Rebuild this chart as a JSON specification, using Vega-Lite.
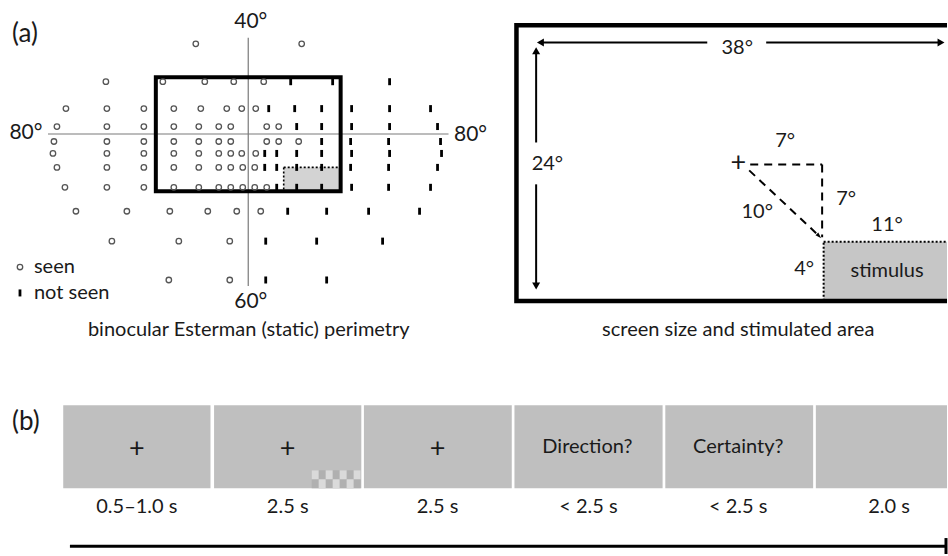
{
  "$schema": "https://vega.github.io/schema/vega-lite/v6.json",
  "width": 948,
  "height": 556,
  "autosize": {"type": "fit", "contains": "padding"},
  "padding": 0,
  "background": "white",
  "config": {
    "view": {"stroke": null},
    "text": {"font": "Lato", "fill": "#1a1a1a", "baseline": "middle"}
  },
  "datasets": {
    "testpoints": [
      {"x": 196, "y": 44, "response": "seen"}, {"x": 302, "y": 44, "response": "seen"},
      {"x": 106, "y": 82, "response": "seen"}, {"x": 163, "y": 82, "response": "seen"}, {"x": 205, "y": 82, "response": "seen"}, {"x": 234, "y": 82, "response": "seen"}, {"x": 264, "y": 82, "response": "seen"},
      {"x": 291, "y": 82, "response": "not seen"}, {"x": 333, "y": 82, "response": "not seen"}, {"x": 390, "y": 82, "response": "not seen"},
      {"x": 66, "y": 109, "response": "seen"}, {"x": 107, "y": 109, "response": "seen"}, {"x": 144, "y": 109, "response": "seen"}, {"x": 174, "y": 109, "response": "seen"}, {"x": 201, "y": 109, "response": "seen"}, {"x": 227, "y": 109, "response": "seen"}, {"x": 242, "y": 109, "response": "seen"}, {"x": 256, "y": 109, "response": "seen"},
      {"x": 269, "y": 109, "response": "not seen"}, {"x": 295, "y": 109, "response": "not seen"}, {"x": 322, "y": 109, "response": "not seen"}, {"x": 352, "y": 109, "response": "not seen"}, {"x": 390, "y": 109, "response": "not seen"}, {"x": 431, "y": 109, "response": "not seen"},
      {"x": 57, "y": 127, "response": "seen"}, {"x": 107, "y": 127, "response": "seen"}, {"x": 144, "y": 127, "response": "seen"}, {"x": 174, "y": 127, "response": "seen"}, {"x": 199, "y": 127, "response": "seen"}, {"x": 219, "y": 127, "response": "seen"}, {"x": 231, "y": 127, "response": "seen"}, {"x": 267, "y": 127, "response": "seen"}, {"x": 279, "y": 127, "response": "seen"},
      {"x": 297, "y": 127, "response": "not seen"}, {"x": 322, "y": 127, "response": "not seen"}, {"x": 352, "y": 127, "response": "not seen"}, {"x": 390, "y": 127, "response": "not seen"}, {"x": 438, "y": 127, "response": "not seen"},
      {"x": 54, "y": 142, "response": "seen"}, {"x": 107, "y": 142, "response": "seen"}, {"x": 144, "y": 142, "response": "seen"}, {"x": 174, "y": 142, "response": "seen"}, {"x": 199, "y": 142, "response": "seen"}, {"x": 219, "y": 142, "response": "seen"}, {"x": 231, "y": 142, "response": "seen"}, {"x": 267, "y": 142, "response": "seen"}, {"x": 279, "y": 142, "response": "seen"}, {"x": 299, "y": 142, "response": "seen"},
      {"x": 322, "y": 142, "response": "not seen"}, {"x": 351, "y": 142, "response": "not seen"}, {"x": 389, "y": 142, "response": "not seen"}, {"x": 441, "y": 142, "response": "not seen"},
      {"x": 53, "y": 154, "response": "seen"}, {"x": 107, "y": 154, "response": "seen"}, {"x": 144, "y": 154, "response": "seen"}, {"x": 174, "y": 154, "response": "seen"}, {"x": 199, "y": 154, "response": "seen"}, {"x": 219, "y": 154, "response": "seen"}, {"x": 231, "y": 154, "response": "seen"}, {"x": 242, "y": 154, "response": "seen"}, {"x": 256, "y": 154, "response": "seen"},
      {"x": 265, "y": 154, "response": "not seen"}, {"x": 277, "y": 154, "response": "not seen"}, {"x": 297, "y": 154, "response": "not seen"}, {"x": 322, "y": 154, "response": "not seen"}, {"x": 352, "y": 154, "response": "not seen"}, {"x": 390, "y": 154, "response": "not seen"}, {"x": 442, "y": 154, "response": "not seen"},
      {"x": 57, "y": 168, "response": "seen"}, {"x": 107, "y": 168, "response": "seen"}, {"x": 144, "y": 168, "response": "seen"}, {"x": 174, "y": 168, "response": "seen"}, {"x": 199, "y": 168, "response": "seen"}, {"x": 219, "y": 168, "response": "seen"}, {"x": 231, "y": 168, "response": "seen"}, {"x": 243, "y": 168, "response": "seen"}, {"x": 255, "y": 168, "response": "seen"},
      {"x": 265, "y": 168, "response": "not seen"}, {"x": 277, "y": 168, "response": "not seen"}, {"x": 297, "y": 168, "response": "not seen"}, {"x": 322, "y": 168, "response": "not seen"}, {"x": 351, "y": 168, "response": "not seen"}, {"x": 389, "y": 168, "response": "not seen"}, {"x": 438, "y": 168, "response": "not seen"},
      {"x": 65, "y": 188, "response": "seen"}, {"x": 107, "y": 188, "response": "seen"}, {"x": 144, "y": 188, "response": "seen"}, {"x": 174, "y": 188, "response": "seen"}, {"x": 199, "y": 188, "response": "seen"}, {"x": 219, "y": 188, "response": "seen"}, {"x": 231, "y": 188, "response": "seen"}, {"x": 243, "y": 188, "response": "seen"}, {"x": 255, "y": 188, "response": "seen"}, {"x": 267, "y": 188, "response": "seen"},
      {"x": 277, "y": 188, "response": "not seen"}, {"x": 297, "y": 188, "response": "not seen"}, {"x": 322, "y": 188, "response": "not seen"}, {"x": 352, "y": 188, "response": "not seen"}, {"x": 389, "y": 188, "response": "not seen"}, {"x": 431, "y": 188, "response": "not seen"},
      {"x": 76, "y": 212, "response": "seen"}, {"x": 127, "y": 212, "response": "seen"}, {"x": 170, "y": 212, "response": "seen"}, {"x": 208, "y": 212, "response": "seen"}, {"x": 237, "y": 212, "response": "seen"}, {"x": 261, "y": 212, "response": "seen"},
      {"x": 288, "y": 212, "response": "not seen"}, {"x": 327, "y": 212, "response": "not seen"}, {"x": 369, "y": 212, "response": "not seen"}, {"x": 420, "y": 212, "response": "not seen"},
      {"x": 112, "y": 242, "response": "seen"}, {"x": 179, "y": 242, "response": "seen"}, {"x": 230, "y": 242, "response": "seen"},
      {"x": 266, "y": 242, "response": "not seen"}, {"x": 317, "y": 242, "response": "not seen"}, {"x": 383, "y": 242, "response": "not seen"},
      {"x": 169, "y": 281, "response": "seen"}, {"x": 230, "y": 281, "response": "seen"},
      {"x": 266, "y": 281, "response": "not seen"}, {"x": 327, "y": 281, "response": "not seen"},
      {"x": 20, "y": 268, "response": "seen"},
      {"x": 20, "y": 294, "response": "not seen"}
    ],
    "areas": [
      {"kind": "trial screen", "x": 63.3, "x2": 210.7, "y": 406.7, "y2": 490},
      {"kind": "trial screen", "x": 214.3, "x2": 361.7, "y": 406.7, "y2": 490},
      {"kind": "trial screen", "x": 364.3, "x2": 512.3, "y": 406.7, "y2": 490},
      {"kind": "trial screen", "x": 515, "x2": 663.3, "y": 406.7, "y2": 490},
      {"kind": "trial screen", "x": 666, "x2": 814, "y": 406.7, "y2": 490},
      {"kind": "trial screen", "x": 816.7, "x2": 965, "y": 406.7, "y2": 490},
      {"kind": "checker dark", "x": 312, "x2": 361, "y": 472, "y2": 490},
      {"kind": "checker light", "x": 312, "x2": 319, "y": 472, "y2": 481},
      {"kind": "checker light", "x": 326, "x2": 333, "y": 472, "y2": 481},
      {"kind": "checker light", "x": 340, "x2": 347, "y": 472, "y2": 481},
      {"kind": "checker light", "x": 354, "x2": 361, "y": 472, "y2": 481},
      {"kind": "checker light", "x": 319, "x2": 326, "y": 481, "y2": 490},
      {"kind": "checker light", "x": 333, "x2": 340, "y": 481, "y2": 490},
      {"kind": "checker light", "x": 347, "x2": 354, "y": 481, "y2": 490},
      {"kind": "test area", "x": 284, "x2": 341, "y": 168, "y2": 192},
      {"kind": "stimulus", "x": 824.5, "x2": 965, "y": 242.7, "y2": 302},
      {"kind": "tested field", "x": 156, "x2": 341, "y": 77.5, "y2": 192},
      {"kind": "screen", "x": 517, "x2": 965, "y": 25.3, "y2": 302}
    ],
    "segments": [
      {"kind": "meridian", "x": 48, "x2": 449, "y": 134.5, "y2": 134.5},
      {"kind": "meridian", "x": 248.5, "x2": 248.5, "y": 38, "y2": 287},
      {"kind": "area edge", "x": 284, "x2": 341, "y": 168, "y2": 168},
      {"kind": "area edge", "x": 284, "x2": 284, "y": 168, "y2": 192},
      {"kind": "arrow", "x": 540, "x2": 708, "y": 42.7, "y2": 42.7},
      {"kind": "arrow", "x": 767, "x2": 940, "y": 42.7, "y2": 42.7},
      {"kind": "arrow", "x": 536.7, "x2": 536.7, "y": 143, "y2": 54},
      {"kind": "arrow", "x": 536.7, "x2": 536.7, "y": 185, "y2": 284},
      {"kind": "offset", "x": 751, "x2": 823, "y": 165, "y2": 165},
      {"kind": "offset", "x": 823, "x2": 823, "y": 165, "y2": 238},
      {"kind": "offset", "x": 750, "x2": 817, "y": 171, "y2": 234},
      {"kind": "time", "x": 70, "x2": 947, "y": 548.3, "y2": 548.3},
      {"kind": "time end", "x": 947, "x2": 947, "y": 540, "y2": 556}
    ],
    "heads": [
      {"dir": "left", "x": 541, "y": 42.7},
      {"dir": "right", "x": 942, "y": 42.7},
      {"dir": "up", "x": 536.7, "y": 51},
      {"dir": "down", "x": 536.7, "y": 287},
      {"dir": "diagonal", "x": 819, "y": 236}
    ],
    "texts": [
      {"role": "panel", "x": 12, "y": 34, "label": "(a)"},
      {"role": "panel", "x": 12, "y": 424, "label": "(b)"},
      {"role": "degree", "x": 251, "y": 22, "label": "40°"},
      {"role": "degree", "x": 26, "y": 133, "label": "80°"},
      {"role": "degree", "x": 471, "y": 135, "label": "80°"},
      {"role": "degree", "x": 251, "y": 303, "label": "60°"},
      {"role": "key", "x": 34, "y": 268, "label": "seen"},
      {"role": "key", "x": 34, "y": 294, "label": "not seen"},
      {"role": "label", "x": 249, "y": 331, "label": "binocular Esterman (static) perimetry"},
      {"role": "label", "x": 739, "y": 331, "label": "screen size and stimulated area"},
      {"role": "label", "x": 738, "y": 48, "label": "38°"},
      {"role": "label", "x": 548, "y": 165, "label": "24°"},
      {"role": "label", "x": 786, "y": 142, "label": "7°"},
      {"role": "label", "x": 847, "y": 200, "label": "7°"},
      {"role": "label", "x": 758, "y": 213, "label": "10°"},
      {"role": "label", "x": 888, "y": 226, "label": "11°"},
      {"role": "label", "x": 805, "y": 270, "label": "4°"},
      {"role": "label", "x": 888, "y": 272, "label": "stimulus"},
      {"role": "cross", "x": 739, "y": 164, "label": "+"},
      {"role": "cross", "x": 137, "y": 451, "label": "+"},
      {"role": "cross", "x": 288, "y": 451, "label": "+"},
      {"role": "cross", "x": 438, "y": 451, "label": "+"},
      {"role": "label", "x": 588, "y": 449, "label": "Direction?"},
      {"role": "label", "x": 739, "y": 449, "label": "Certainty?"},
      {"role": "label", "x": 137, "y": 509, "label": "0.5–1.0 s"},
      {"role": "label", "x": 288, "y": 509, "label": "2.5 s"},
      {"role": "label", "x": 438, "y": 509, "label": "2.5 s"},
      {"role": "label", "x": 589, "y": 509, "label": "< 2.5 s"},
      {"role": "label", "x": 739, "y": 509, "label": "< 2.5 s"},
      {"role": "label", "x": 890, "y": 509, "label": "2.0 s"}
    ]
  },
  "encoding": {
    "x": {"field": "x", "type": "quantitative", "scale": {"domain": [0, 948], "nice": false, "zero": false}, "axis": null},
    "y": {"field": "y", "type": "quantitative", "scale": {"domain": [0, 556], "nice": false, "zero": false, "reverse": true}, "axis": null}
  },
  "layer": [
    {
      "data": {"name": "areas"},
      "transform": [{"filter": "datum.kind === 'trial screen'"}],
      "mark": {"type": "rect", "fill": "#bfbfbf", "clip": true},
      "encoding": {"x2": {"field": "x2"}, "y2": {"field": "y2"}}
    },
    {
      "data": {"name": "areas"},
      "transform": [{"filter": "datum.kind === 'checker dark'"}],
      "mark": {"type": "rect", "fill": "#b0b0b0"},
      "encoding": {"x2": {"field": "x2"}, "y2": {"field": "y2"}}
    },
    {
      "data": {"name": "areas"},
      "transform": [{"filter": "datum.kind === 'checker light'"}],
      "mark": {"type": "rect", "fill": "#dadada"},
      "encoding": {"x2": {"field": "x2"}, "y2": {"field": "y2"}}
    },
    {
      "data": {"name": "areas"},
      "transform": [{"filter": "datum.kind === 'test area'"}],
      "mark": {"type": "rect", "fill": "#d3d3d3"},
      "encoding": {"x2": {"field": "x2"}, "y2": {"field": "y2"}}
    },
    {
      "data": {"name": "areas"},
      "transform": [{"filter": "datum.kind === 'stimulus'"}],
      "mark": {"type": "rect", "fill": "#c6c6c6", "stroke": "black", "strokeWidth": 2, "strokeDash": [2, 2], "clip": true},
      "encoding": {"x2": {"field": "x2"}, "y2": {"field": "y2"}}
    },
    {
      "data": {"name": "segments"},
      "transform": [{"filter": "datum.kind === 'meridian'"}],
      "mark": {"type": "rule", "stroke": "#7a7a7a", "strokeWidth": 1.2},
      "encoding": {"x2": {"field": "x2"}, "y2": {"field": "y2"}}
    },
    {
      "data": {"name": "segments"},
      "transform": [{"filter": "datum.kind === 'area edge'"}],
      "mark": {"type": "rule", "stroke": "black", "strokeWidth": 1.6, "strokeDash": [2, 2]},
      "encoding": {"x2": {"field": "x2"}, "y2": {"field": "y2"}}
    },
    {
      "data": {"name": "areas"},
      "transform": [{"filter": "datum.kind === 'tested field'"}],
      "mark": {"type": "rect", "fillOpacity": 0, "stroke": "black", "strokeWidth": 4},
      "encoding": {"x2": {"field": "x2"}, "y2": {"field": "y2"}}
    },
    {
      "data": {"name": "areas"},
      "transform": [{"filter": "datum.kind === 'screen'"}],
      "mark": {"type": "rect", "fillOpacity": 0, "stroke": "black", "strokeWidth": 4.5, "clip": true},
      "encoding": {"x2": {"field": "x2"}, "y2": {"field": "y2"}}
    },
    {
      "data": {"name": "segments"},
      "transform": [{"filter": "datum.kind === 'arrow'"}],
      "mark": {"type": "rule", "stroke": "black", "strokeWidth": 2},
      "encoding": {"x2": {"field": "x2"}, "y2": {"field": "y2"}}
    },
    {
      "data": {"name": "segments"},
      "transform": [{"filter": "datum.kind === 'offset'"}],
      "mark": {"type": "rule", "stroke": "black", "strokeWidth": 2, "strokeDash": [8, 6]},
      "encoding": {"x2": {"field": "x2"}, "y2": {"field": "y2"}}
    },
    {
      "data": {"name": "segments"},
      "transform": [{"filter": "datum.kind === 'time' || datum.kind === 'time end'"}],
      "mark": {"type": "rule", "stroke": "black", "strokeWidth": 3},
      "encoding": {"x2": {"field": "x2"}, "y2": {"field": "y2"}}
    },
    {
      "data": {"name": "heads"},
      "mark": {"type": "point", "filled": true, "fill": "black", "strokeWidth": 0, "size": 64, "opacity": 1},
      "encoding": {
        "shape": {
          "field": "dir", "type": "nominal", "legend": null,
          "scale": {
            "domain": ["left", "right", "up", "down", "diagonal"],
            "range": ["triangle-left", "triangle-right", "triangle-up", "triangle-down", "M0.75,0.75L0.05,-0.65L-0.65,0.05Z"]
          }
        }
      }
    },
    {
      "data": {"name": "testpoints"},
      "transform": [{"filter": "datum.response === 'seen'"}],
      "mark": {"type": "point", "shape": "circle", "filled": false, "stroke": "#555555", "strokeWidth": 1.3, "size": 30, "opacity": 1}
    },
    {
      "data": {"name": "testpoints"},
      "transform": [{"filter": "datum.response === 'not seen'"}],
      "mark": {"type": "point", "shape": "M-0.4,-1H0.4V1H-0.4Z", "filled": true, "fill": "black", "strokeWidth": 0, "size": 49, "opacity": 1}
    },
    {
      "data": {"name": "texts"},
      "transform": [{"filter": "datum.role === 'panel'"}],
      "mark": {"type": "text", "align": "left", "fontSize": 26},
      "encoding": {"text": {"field": "label"}}
    },
    {
      "data": {"name": "texts"},
      "transform": [{"filter": "datum.role === 'degree'"}],
      "mark": {"type": "text", "align": "center", "fontSize": 21},
      "encoding": {"text": {"field": "label"}}
    },
    {
      "data": {"name": "texts"},
      "transform": [{"filter": "datum.role === 'key'"}],
      "mark": {"type": "text", "align": "left", "fontSize": 20},
      "encoding": {"text": {"field": "label"}}
    },
    {
      "data": {"name": "texts"},
      "transform": [{"filter": "datum.role === 'label'"}],
      "mark": {"type": "text", "align": "center", "fontSize": 20},
      "encoding": {"text": {"field": "label"}}
    },
    {
      "data": {"name": "texts"},
      "transform": [{"filter": "datum.role === 'cross'"}],
      "mark": {"type": "text", "align": "center", "fontSize": 27},
      "encoding": {"text": {"field": "label"}}
    }
  ]
}
